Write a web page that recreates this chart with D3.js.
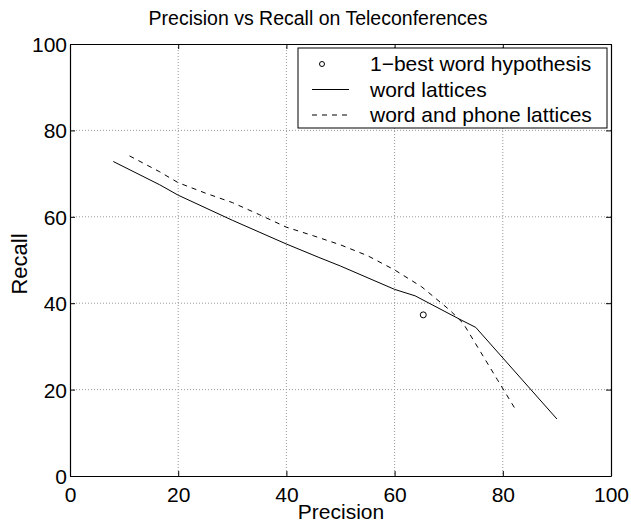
<!DOCTYPE html>
<html>
<head>
<meta charset="utf-8">
<script src="https://cdn.jsdelivr.net/npm/d3@7"></script>
<style>
body { margin: 0; background: #fff; }
text { font-family: "Liberation Sans", Arial, Helvetica, sans-serif; fill: #000; }
</style>
</head>
<body>
<svg id="chart"></svg>
<script>
// values
var bestPrecision = [65.3];
var bestRecall = [37.3];

var wordPrecision = [8, 16.6, 20, 30, 40, 46, 50, 60, 63.8, 72, 75, 90];
var wordRecall = [72.8, 67.4, 65, 59.2, 53.7, 50.6, 48.6, 43.2, 41.7, 36.3, 34.4, 13.2];

var phonePrecision = [11, 16.6, 20, 25, 30, 35, 40, 45, 50, 55, 60, 65, 70.2, 72.7, 76, 79, 82.4];
var phoneRecall = [74.1, 70.4, 67.9, 65.5, 63.3, 60.5, 57.6, 55.6, 53.5, 51, 47.7, 43.8, 38.4, 35.3, 28.5, 22.3, 15.3];

var tickValues = [0, 20, 40, 60, 80, 100];
var legendLabels = ["1\u2212best word hypothesis", "word lattices", "word and phone lattices"];

var width = 631, height = 522;
var margin = {left: 70, top: 44, right: 20, bottom: 46};
var plotW = width - margin.left - margin.right;
var plotH = height - margin.top - margin.bottom;

var svg = d3.select("#chart").attr("width", width).attr("height", height);

var x = d3.scaleLinear().domain([0, 100]).range([0, plotW]);
var y = d3.scaleLinear().domain([0, 100]).range([plotH, 0]);

var g = svg.append("g").attr("transform", "translate(" + margin.left + "," + margin.top + ")");

// dotted grid
g.selectAll(".gx").data(tickValues.slice(1, -1)).enter().append("line")
  .attr("x1", function(d) { return x(d); }).attr("x2", function(d) { return x(d); })
  .attr("y1", 0).attr("y2", plotH)
  .attr("stroke", "#999").attr("stroke-width", 1).attr("stroke-dasharray", "1,2");
g.selectAll(".gy").data(tickValues.slice(1, -1)).enter().append("line")
  .attr("y1", function(d) { return y(d); }).attr("y2", function(d) { return y(d); })
  .attr("x1", 0).attr("x2", plotW)
  .attr("stroke", "#999").attr("stroke-width", 1).attr("stroke-dasharray", "1,2");

// axes, ticks pointing inward on all four sides
var axBottom = g.append("g").attr("transform", "translate(0," + plotH + ")")
  .call(d3.axisBottom(x).tickValues(tickValues).tickSizeInner(-5).tickSizeOuter(0).tickPadding(9));
var axTop = g.append("g")
  .call(d3.axisTop(x).tickValues(tickValues).tickSizeInner(-5).tickSizeOuter(0).tickFormat(""));
var axLeft = g.append("g")
  .call(d3.axisLeft(y).tickValues(tickValues).tickSizeInner(-5).tickSizeOuter(0).tickPadding(3));
var axRight = g.append("g").attr("transform", "translate(" + plotW + ",0)")
  .call(d3.axisRight(y).tickValues(tickValues).tickSizeInner(-5).tickSizeOuter(0).tickFormat(""));

[axBottom, axTop, axLeft, axRight].forEach(function(a) {
  a.select(".domain").attr("stroke", "#000").attr("stroke-width", 1.2);
  a.selectAll(".tick line").attr("stroke", "#000");
  a.selectAll("text").style("font-size", "21px").attr("fill", "#000")
    .style("font-family", "'Liberation Sans', Arial, sans-serif");
});
axBottom.selectAll("text").attr("dy", "0.8em");
axLeft.selectAll("text").attr("dy", "0.36em");

// lines
var line = d3.line()
  .x(function(d) { return x(d[0]); })
  .y(function(d) { return y(d[1]); });

g.append("path").datum(d3.zip(wordPrecision, wordRecall))
  .attr("d", line).attr("fill", "none").attr("stroke", "#000").attr("stroke-width", 1);
g.append("path").datum(d3.zip(phonePrecision, phoneRecall))
  .attr("d", line).attr("fill", "none").attr("stroke", "#000").attr("stroke-width", 1)
  .attr("stroke-dasharray", "5,5");
g.selectAll(".best").data(d3.zip(bestPrecision, bestRecall)).enter().append("circle")
  .attr("cx", function(d) { return x(d[0]); }).attr("cy", function(d) { return y(d[1]); })
  .attr("r", 3).attr("fill", "none").attr("stroke", "#000").attr("stroke-width", 1);

// legend
var lg = svg.append("g").attr("transform", "translate(298,48)");
lg.append("rect").attr("width", 309).attr("height", 80)
  .attr("fill", "#fff").attr("stroke", "#000").attr("stroke-width", 1);
legendLabels.forEach(function(label, i) {
  var cy = 16 + i * 25.5;
  if (i === 0) {
    lg.append("circle").attr("cx", 24).attr("cy", cy).attr("r", 2.5)
      .attr("fill", "none").attr("stroke", "#000");
  } else {
    lg.append("line").attr("x1", 14).attr("x2", 51).attr("y1", cy).attr("y2", cy)
      .attr("stroke", "#000").attr("stroke-width", 1)
      .attr("stroke-dasharray", i === 2 ? "5,5" : null);
  }
  lg.append("text").attr("x", 72).attr("y", cy + 7).style("font-size", "21px").text(label);
});

// titles
svg.append("text").attr("x", 318).attr("y", 25)
  .attr("text-anchor", "middle").style("font-size", "19.5px")
  .text("Precision vs Recall on Teleconferences");
svg.append("text").attr("x", 341).attr("y", 519)
  .attr("text-anchor", "middle").style("font-size", "21px").text("Precision");
svg.append("text").attr("transform", "translate(27,264) rotate(-90)")
  .attr("text-anchor", "middle").style("font-size", "22px").text("Recall");
</script>
</body>
</html>
